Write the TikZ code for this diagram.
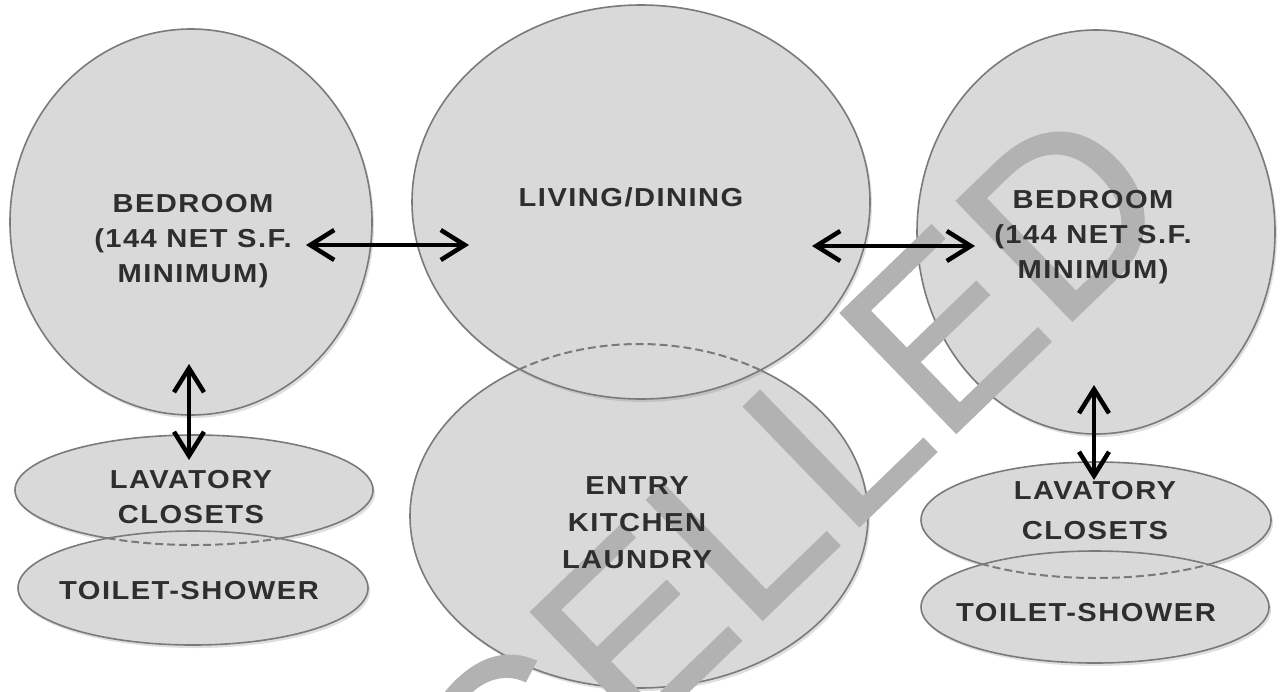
\documentclass[tikz,border=0pt]{standalone}
\usepackage{fontspec}
\setmainfont{Liberation Sans}
\usetikzlibrary{shapes.geometric,arrows.meta,shadows}
\definecolor{fillg}{HTML}{D9D9D9}
\definecolor{edgeg}{HTML}{7A7A7A}
\definecolor{txtg}{HTML}{2E2E2E}
\definecolor{wmg}{HTML}{B2B2B2}
\newcommand{\lblfont}[1]{\fontsize{26}{#1}\selectfont\bfseries\addfontfeatures{LetterSpace=5}}
\begin{document}
\begin{tikzpicture}[x=1pt,y=-1pt,
  room/.style={ellipse, draw=edgeg, line width=1.6pt, fill=fillg, inner sep=0pt, outer sep=0pt,
    drop shadow={shadow xshift=2pt, shadow yshift=-3pt, opacity=0.25}},
  lbl/.style={font=\lblfont{35}, text=txtg, align=center, xscale=1.12, inner sep=0pt},
  link/.style={line width=3.6pt, {Straight Barb[length=24pt,width=30pt,line width=4.5pt]}-{Straight Barb[length=24pt,width=30pt,line width=4.5pt]}},
  hidden/.style={draw=edgeg, line width=2pt, dash pattern=on 8pt off 4pt},
  stamp/.style={font=\fontsize{242}{242}\selectfont\addfontfeatures{FakeBold=0.8}, text=wmg, rotate=44, anchor=base west, inner sep=0pt}
]
\useasboundingbox[fill=white] (0,0) rectangle (1281,691);

% rooms
\node[room, minimum width=362pt, minimum height=386pt] (bedL) at (191,222) {};
\node[room, minimum width=358pt, minimum height=110pt] (lavL) at (194,490) {};
\node[room, minimum width=350pt, minimum height=114pt] (toiL) at (193,588) {};
\node[room, minimum width=358pt, minimum height=404pt] (bedR) at (1096,232) {};
\node[room, minimum width=350pt, minimum height=116pt] (lavR) at (1096,520) {};
\node[room, minimum width=348pt, minimum height=112pt] (toiR) at (1095,607) {};
\node[room, minimum width=458pt, minimum height=344pt] (entry) at (639,516) {};
\node[room, minimum width=458pt, minimum height=394pt] (living) at (641,202) {};

% hidden outlines
\begin{scope}
  \clip (living.center) ellipse [x radius=229pt, y radius=197pt];
  \draw[hidden] (entry.center) ellipse [x radius=229pt, y radius=172pt];
\end{scope}
\begin{scope}
  \clip (toiL.center) ellipse [x radius=175pt, y radius=57pt];
  \draw[hidden] (lavL.center) ellipse [x radius=179pt, y radius=55pt];
\end{scope}
\begin{scope}
  \clip (toiR.center) ellipse [x radius=174pt, y radius=56pt];
  \draw[hidden] (lavR.center) ellipse [x radius=175pt, y radius=58pt];
\end{scope}

% watermark
\begin{scope}
  \clip (0,0) rectangle (1281,691);
  \node[stamp] (wm) at (139,1222) {CANCELLED};
\end{scope}

% labels
\node[lbl] (tBedL) at (193,241) {BEDROOM\\(144 NET S.F.\\MINIMUM)};
\node[lbl] (tLiv) at (631,197) {LIVING/DINING};
\node[lbl, font=\lblfont{37}] (tEntry) at (637,523) {ENTRY\\KITCHEN\\LAUNDRY};
\node[lbl, font=\lblfont{35}] (tLavL) at (191,497) {LAVATORY\\CLOSETS};
\node[lbl] (tToiL) at (189,591) {TOILET-SHOWER};
\node[lbl] (tBedR) at (1093,237) {BEDROOM\\(144 NET S.F.\\MINIMUM)};
\node[lbl, font=\lblfont{40}] (tLavR) at (1095,511) {LAVATORY\\CLOSETS};
\node[lbl] (tToiR) at (1086,613) {TOILET-SHOWER};

% connector ends
\coordinate (a1) at (306,245);
\coordinate (a2) at (469,245);
\coordinate (b1) at (812,246);
\coordinate (b2) at (975,246);
\coordinate (c1) at (189,364);
\coordinate (c2) at (189,460);
\coordinate (d1) at (1094,385);
\coordinate (d2) at (1094,480);

\draw[link] (a1) -- (a2);
\draw[link] (b1) -- (b2);
\draw[link] (c1) -- (c2);
\draw[link] (d1) -- (d2);
\end{tikzpicture}
\end{document}
